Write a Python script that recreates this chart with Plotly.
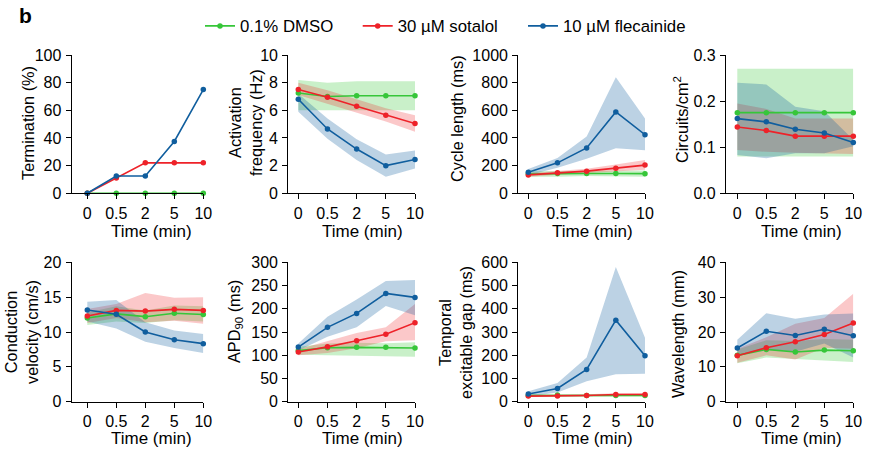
import plotly.graph_objects as go

W, H = 870, 453
FONT = "Arial, Liberation Sans, sans-serif"

time_labels = ["0", "0.5", "2", "5", "10"]
series_names = ["0.1% DMSO", "30 µM sotalol", "10 µM flecainide"]

# ---- data (mean, upper, lower) per panel: green, red, blue ----
term_dmso = [0, 0, 0, 0, 0]
term_sot = [0, 11, 22, 22, 22]
term_flec = [0, 12.5, 12.5, 37.5, 75]

af_dmso = [7.25, 7.0, 7.05, 7.05, 7.05]
af_dmso_hi = [8.2, 8.0, 8.1, 8.1, 8.1]
af_dmso_lo = [6.0, 6.0, 6.0, 6.0, 6.0]
af_sot = [7.5, 6.95, 6.3, 5.65, 5.05]
af_sot_hi = [8.0, 7.45, 6.8, 6.15, 5.65]
af_sot_lo = [7.1, 6.45, 5.85, 5.2, 4.45]
af_flec = [6.8, 4.65, 3.2, 2.0, 2.45]
af_flec_hi = [7.2, 5.4, 3.9, 2.8, 3.1]
af_flec_lo = [5.9, 3.95, 2.4, 1.2, 1.8]

cl_dmso = [140, 143, 143, 143, 142]
cl_dmso_hi = [160, 162, 165, 165, 165]
cl_dmso_lo = [120, 120, 125, 125, 120]
cl_sot = [133, 148, 160, 182, 204]
cl_sot_hi = [145, 160, 178, 208, 240]
cl_sot_lo = [120, 135, 145, 160, 170]
cl_flec = [152, 220, 328, 588, 424]
cl_flec_hi = [175, 255, 410, 840, 540]
cl_flec_lo = [130, 185, 250, 325, 312]

ci_dmso = [0.175, 0.175, 0.175, 0.175, 0.175]
ci_dmso_hi = [0.27, 0.27, 0.27, 0.27, 0.27]
ci_dmso_lo = [0.08, 0.08, 0.08, 0.08, 0.08]
ci_sot = [0.144, 0.136, 0.124, 0.124, 0.124]
ci_sot_hi = [0.195, 0.183, 0.162, 0.162, 0.162]
ci_sot_lo = [0.094, 0.09, 0.088, 0.086, 0.085]
ci_flec = [0.162, 0.155, 0.139, 0.131, 0.11]
ci_flec_hi = [0.24, 0.236, 0.188, 0.178, 0.116]
ci_flec_lo = [0.083, 0.076, 0.087, 0.087, 0.102]

cv_dmso = [12.0, 12.6, 12.2, 12.7, 12.5]
cv_dmso_hi = [12.8, 13.7, 13.1, 13.8, 13.7]
cv_dmso_lo = [11.0, 11.5, 11.3, 11.7, 11.5]
cv_sot = [12.3, 13.1, 13.0, 13.25, 13.1]
cv_sot_hi = [13.3, 14.0, 15.6, 14.9, 15.0]
cv_sot_lo = [11.3, 12.0, 11.4, 11.6, 11.2]
cv_flec = [13.15, 12.55, 10.0, 8.9, 8.33]
cv_flec_hi = [14.35, 14.6, 11.4, 10.2, 9.7]
cv_flec_lo = [11.5, 10.5, 8.6, 7.7, 7.0]

apd_dmso = [110, 116, 117, 117, 115.5]
apd_dmso_hi = [118, 125, 127, 126, 128]
apd_dmso_lo = [101, 100, 99, 98, 97]
apd_sot = [107, 118, 131, 145, 170]
apd_sot_hi = [113, 130, 148, 160, 210]
apd_sot_lo = [100, 105, 115, 130, 132]
apd_flec = [117.5, 160, 190, 233, 224.5]
apd_flec_hi = [125, 183, 220, 260, 262]
apd_flec_lo = [110, 140, 160, 206, 186]

eg_dmso = [27, 28.5, 27, 27, 27]
eg_dmso_hi = [32, 33, 32, 32, 32]
eg_dmso_lo = [22, 23, 22, 22, 22]
eg_sot = [24, 24, 27, 31, 31]
eg_sot_hi = [30, 30, 32, 36, 37]
eg_sot_lo = [20, 20, 22, 25, 26]
eg_flec = [33, 57, 139, 351, 198]
eg_flec_hi = [45, 80, 190, 580, 275]
eg_flec_lo = [22, 40, 88, 118, 120]

wl_dmso = [13.3, 15.0, 14.25, 14.8, 14.6]
wl_dmso_hi = [15.0, 17.6, 17.4, 18.0, 17.8]
wl_dmso_lo = [11.0, 12.7, 12.3, 11.8, 11.4]
wl_sot = [13.2, 15.5, 17.2, 19.3, 22.6]
wl_sot_hi = [15.2, 18.5, 22.4, 24.0, 31.0]
wl_sot_lo = [11.2, 13.3, 12.1, 15.5, 15.2]
wl_flec = [15.4, 20.2, 19.0, 20.8, 18.9]
wl_flec_hi = [17.8, 25.4, 23.8, 25.0, 25.3]
wl_flec_lo = [13.3, 15.0, 14.3, 16.7, 12.7]

GREEN, RED, BLUE = "#36c639", "#ee2229", "#105e9e"
BANDS = ["rgba(54,198,57,0.27)", "rgba(238,34,41,0.25)", "rgba(16,94,158,0.28)"]
COLORS = [GREEN, RED, BLUE]
LEGEND_IDS = ["legend", "legend2", "legend3"]
LEGEND_X = [200, 357.7, 523]

# panel geometry (pixels): axis-line x, first tick x, last tick x, top y, bottom y
TOP = (55, 193.3)
BOT = (262.3, 401.7)
COLS = [(71.7, 87.3, 203.3), (288.3, 298.3, 415), (518.3, 528.3, 645), (726, 737.3, 853.3)]

panels = [
    dict(title="Termination (%)", ymax=100, dtick=20, fmt="d", row=0, col=0,
         tx=28, ty=123,
         data=[(term_dmso, None, None), (term_sot, None, None), (term_flec, None, None)]),
    dict(title="Activation<br>frequency (Hz)", ymax=10, dtick=2, fmt="d", row=0, col=1,
         tx=245, ty=123,
         data=[(af_dmso, af_dmso_hi, af_dmso_lo), (af_sot, af_sot_hi, af_sot_lo), (af_flec, af_flec_hi, af_flec_lo)]),
    dict(title="Cycle length (ms)", ymax=1000, dtick=200, fmt="d", row=0, col=2,
         tx=457, ty=119,
         data=[(cl_dmso, cl_dmso_hi, cl_dmso_lo), (cl_sot, cl_sot_hi, cl_sot_lo), (cl_flec, cl_flec_hi, cl_flec_lo)]),
    dict(title="Circuits/cm<sup>2</sup>", ymax=0.3, dtick=0.1, fmt=".1f", row=0, col=3,
         tx=681, ty=120,
         data=[(ci_dmso, ci_dmso_hi, ci_dmso_lo), (ci_sot, ci_sot_hi, ci_sot_lo), (ci_flec, ci_flec_hi, ci_flec_lo)]),
    dict(title="Conduction<br>velocity (cm/s)", ymax=20, dtick=5, fmt="d", row=1, col=0,
         tx=21, ty=332,
         data=[(cv_dmso, cv_dmso_hi, cv_dmso_lo), (cv_sot, cv_sot_hi, cv_sot_lo), (cv_flec, cv_flec_hi, cv_flec_lo)]),
    dict(title="APD<sub>90</sub> (ms)", ymax=300, dtick=50, fmt="d", row=1, col=1,
         tx=235, ty=322,
         data=[(apd_dmso, apd_dmso_hi, apd_dmso_lo), (apd_sot, apd_sot_hi, apd_sot_lo), (apd_flec, apd_flec_hi, apd_flec_lo)]),
    dict(title="Temporal<br>excitable gap (ms)", ymax=600, dtick=100, fmt="d", row=1, col=2,
         tx=455, ty=333,
         data=[(eg_dmso, eg_dmso_hi, eg_dmso_lo), (eg_sot, eg_sot_hi, eg_sot_lo), (eg_flec, eg_flec_hi, eg_flec_lo)]),
    dict(title="Wavelength (mm)", ymax=40, dtick=10, fmt="d", row=1, col=3,
         tx=678, ty=334,
         data=[(wl_dmso, wl_dmso_hi, wl_dmso_lo), (wl_sot, wl_sot_hi, wl_sot_lo), (wl_flec, wl_flec_hi, wl_flec_lo)]),
]

fig = go.Figure()
layout = dict(template="none", width=W, height=H,
              margin=dict(l=0, r=0, t=0, b=0, pad=0, autoexpand=False),
              paper_bgcolor="white", plot_bgcolor="white",
              font=dict(family=FONT, size=16, color="black"),
              showlegend=True)
annotations = []
xi = list(range(5))

for i, p in enumerate(panels):
    n = i + 1
    xa = "x" if n == 1 else f"x{n}"
    ya = "y" if n == 1 else f"y{n}"
    ax_px, t0_px, t4_px = COLS[p["col"]]
    ytop, ybot = TOP if p["row"] == 0 else BOT
    spacing = (t4_px - t0_px) / 4
    lo = -(t0_px - ax_px) / spacing
    common = dict(showline=True, linecolor="black", linewidth=1.3, ticks="outside",
                  ticklen=5, tickwidth=1.2, tickcolor="black", showgrid=False, zeroline=False,
                  automargin=False, fixedrange=True,
                  tickfont=dict(size=16, family=FONT, color="black"))
    layout["xaxis" if n == 1 else f"xaxis{n}"] = dict(
        domain=[ax_px / W, t4_px / W], range=[lo, 4], anchor=ya,
        tickmode="array", tickvals=xi, ticktext=time_labels, **common)
    layout["yaxis" if n == 1 else f"yaxis{n}"] = dict(
        domain=[1 - ybot / H, 1 - ytop / H], range=[0, p["ymax"]], anchor=xa,
        dtick=p["dtick"], tick0=0, tickformat=p["fmt"], ticklabelstandoff=1, **common)
    # bands
    for k, (m, hi, lw) in enumerate(p["data"]):
        if hi is None:
            continue
        fig.add_trace(go.Scatter(x=xi + xi[::-1], y=hi + lw[::-1], fill="toself",
                                 fillcolor=BANDS[k], line=dict(width=0), mode="lines",
                                 hoverinfo="skip", showlegend=False, xaxis=xa, yaxis=ya))
    for k, (m, hi, lw) in enumerate(p["data"]):
        fig.add_trace(go.Scatter(x=xi, y=m, mode="lines+markers", name=series_names[k],
                                 line=dict(color=COLORS[k], width=1.6),
                                 marker=dict(color=COLORS[k], size=5.5),
                                 cliponaxis=False, showlegend=(i == 0),
                                 legend=LEGEND_IDS[k], xaxis=xa, yaxis=ya))
    annotations.append(dict(text=p["title"], x=p["tx"] / W, y=1 - p["ty"] / H,
                            xref="paper", yref="paper", textangle=-90, showarrow=False,
                            xanchor="center", yanchor="middle",
                            font=dict(size=16.3, family=FONT, color="black")))
    tx_center = (t0_px + t4_px) / 2 + 6
    ty_title = 232 if p["row"] == 0 else 438
    annotations.append(dict(text="Time (min)", x=tx_center / W, y=1 - ty_title / H,
                            xref="paper", yref="paper", showarrow=False,
                            xanchor="center", yanchor="middle",
                            font=dict(size=17, family=FONT, color="black")))

annotations.append(dict(text="<b>b</b>", x=17 / W, y=1 - 16 / H, xref="paper", yref="paper",
                        showarrow=False, xanchor="left", yanchor="middle",
                        font=dict(size=21, family=FONT, color="black")))

layout["annotations"] = annotations
for k, lid in enumerate(LEGEND_IDS):
    layout[lid] = dict(orientation="h", x=LEGEND_X[k] / W, y=1 - 26 / H,
                       xanchor="left", yanchor="middle",
                       font=dict(size=16.8, family=FONT, color="black"),
                       bgcolor="rgba(0,0,0,0)", itemwidth=30, tracegroupgap=0)
fig.update_layout(**layout)
fig.write_html("out.html", config={"displayModeBar": False},
               post_script="document.body.style.margin='0';document.body.style.overflow='hidden';")
